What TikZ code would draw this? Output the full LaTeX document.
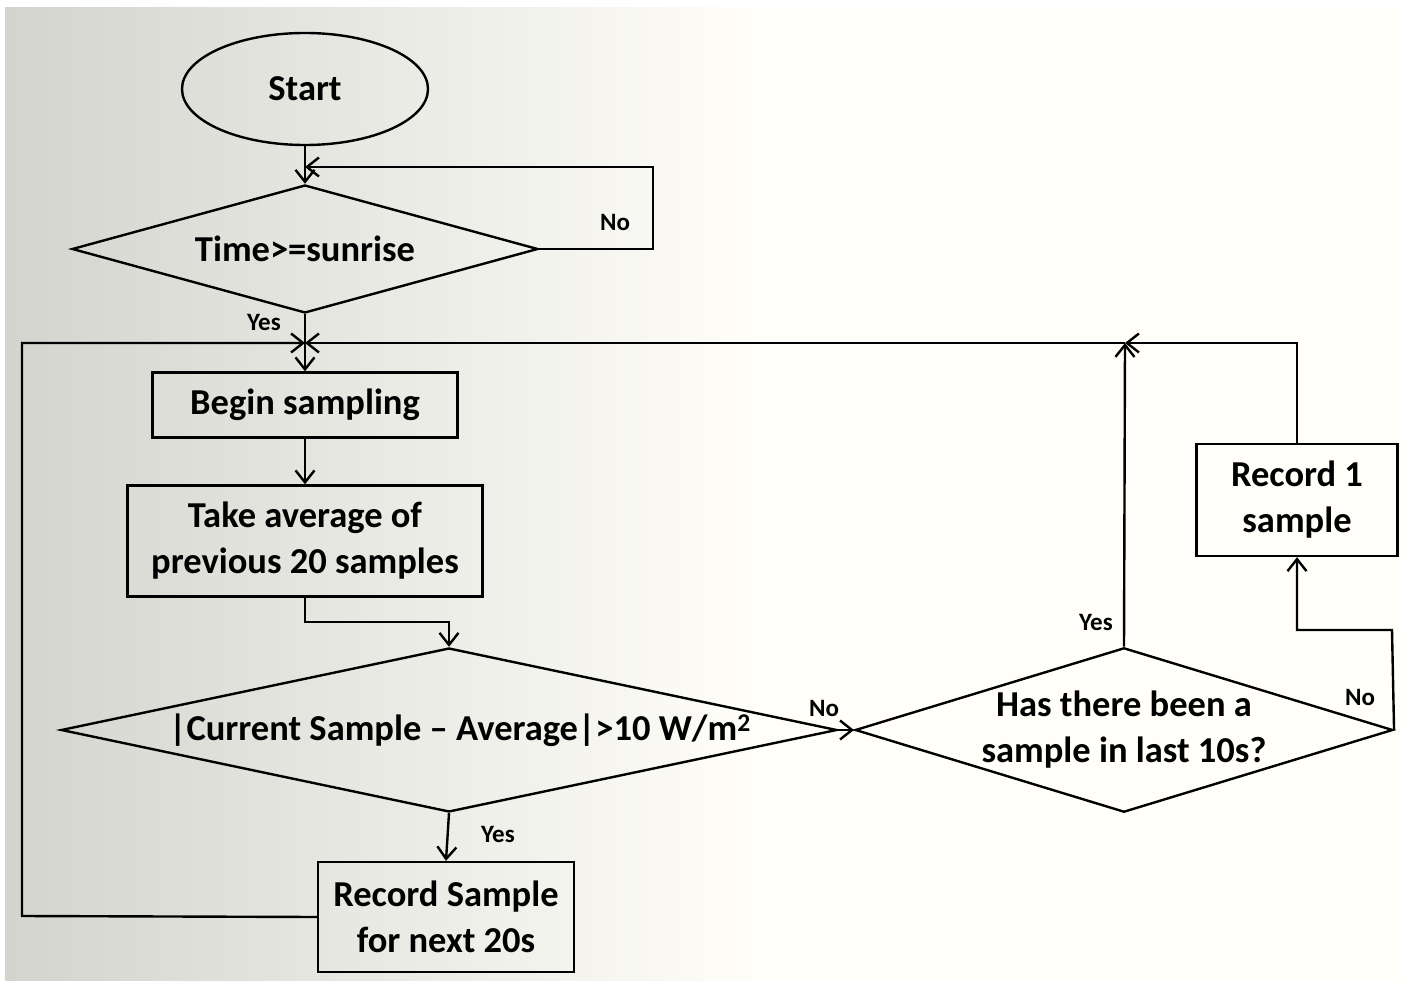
\documentclass[tikz,border=0pt]{standalone}
\usepackage{fontspec}
\setmainfont{Carlito}
\usetikzlibrary{shapes.geometric,arrows.meta}
\definecolor{bggray}{RGB}{212,212,207}
\definecolor{bgwhite}{RGB}{255,254,248}
\tikzset{
  every node/.style={font=\bfseries},
  box/.style={draw, line width=2.4pt, inner sep=0pt, align=center, font=\fontsize{36.5}{46}\selectfont\bfseries},
  dia/.style={draw, diamond, line width=2.4pt, inner sep=0pt, align=center, font=\fontsize{36.5}{46}\selectfont\bfseries},
  lab/.style={font=\fontsize{25}{28}\selectfont\bfseries},
  arr/.style={line width=2.4pt, -{Straight Barb[length=12pt,width=19pt,line width=2.4pt]}},
}
\begin{document}
\begin{tikzpicture}[x=1pt,y=-1pt]
\useasboundingbox (0,0) rectangle (1403,981);
\fill[white] (0,0) rectangle (1403,981);
\shade[left color=bggray, right color=bgwhite] (5,8) rectangle (760,981);
\fill[bgwhite] (759,8) rectangle (1403,981);

\node[box, ellipse, minimum width=246pt, minimum height=112pt] (start) at (305,89) {Start};
\node[dia, aspect=3.64, minimum width=466pt, minimum height=128pt] (d1) at (305,249) {Time>=sunrise};
\node[box, minimum width=305pt, minimum height=65pt] (b1) at (305,405) {Begin sampling};
\node[box, minimum width=355pt, minimum height=111pt] (ta) at (305,541) {Take average of\\previous 20 samples};
\node[dia, aspect=4.73, minimum width=776pt, minimum height=164pt] (d3) at (449,730) {\hspace*{22pt}|Current Sample -- Average|>10 W/m\textsuperscript{2}};
\node[box, minimum width=256pt, minimum height=110pt] (rs) at (446,917) {Record Sample\\for next 20s};
\node[dia, aspect=3.27, minimum width=537pt, minimum height=164pt] (d4) at (1124,730) {Has there been a\\sample in last 10s?};
\node[box, minimum width=201pt, minimum height=112pt] (r1) at (1297,500) {Record 1\\sample};

\coordinate (j1) at (305,167);
\coordinate (j2) at (305,343);
\coordinate (j3) at (1125,343);

\draw[arr] (start.south) -- (d1.north);
\draw[arr] (d1.east) -- (653,249) |- (j1);
\draw[arr] (d1.south) -- (b1.north);
\draw[arr] (rs.west) -- (22,916) |- (j2);
\draw[arr] (r1.north) |- (j3);
\draw[arr] (j3) -- (j2);
\draw[arr] (d4.north) -- (j3);
\draw[arr] (b1.south) -- (ta.north);
\draw[arr] (ta.south) -- (305,622) -| (d3.north);
\draw[arr] (d3.south) -- (rs.north);
\draw[arr] (d3.east) -- (d4.west);
\draw[arr] (d4.east) -- (1392,630) -| (r1.south);

\node[lab] (l1) at (615,222) {No};
\node[lab] (l2) at (264,322) {Yes};
\node[lab] (l3) at (498,834) {Yes};
\node[lab] (l4) at (824,708) {No};
\node[lab] (l5) at (1096,622) {Yes};
\node[lab] (l6) at (1360,697) {No};
\end{tikzpicture}
\end{document}
